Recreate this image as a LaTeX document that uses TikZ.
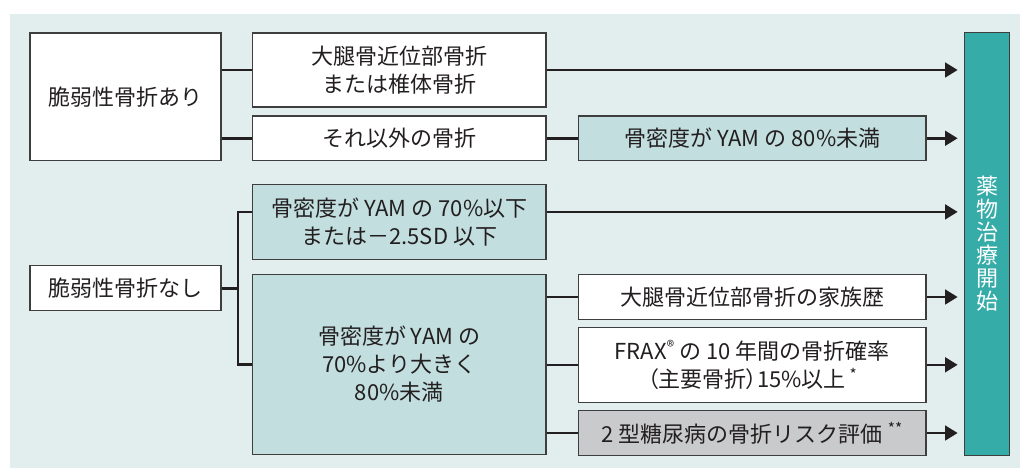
\documentclass[tikz,border=0pt]{standalone}
\usepackage{fontspec}
\setmainfont{Noto Sans CJK JP}
\usetikzlibrary{arrows.meta}
\definecolor{panel}{HTML}{E2EEEE}
\definecolor{lteal}{HTML}{C2DEDF}
\definecolor{teal2}{HTML}{36ACA9}
\definecolor{gbox}{HTML}{C9CACB}
\definecolor{boxline}{HTML}{3E3E3E}
\definecolor{ink}{HTML}{231F20}
\begin{document}
\begin{tikzpicture}[x=1pt,y=-1pt,
  box/.style={draw=boxline, line width=1.1pt, fill=white, text=ink, align=center, inner sep=0pt, font=\fontsize{22}{28}\selectfont},
  conn/.style={draw=ink, line width=2.6pt},
  arr/.style={conn, -{Triangle[length=12.6pt,width=14.7pt]}, shorten >=6.5pt}]
\useasboundingbox (0,0) rectangle (1020,468);
\fill[panel] (10,14) rectangle (1020,468);
\node[box, minimum width=191pt, minimum height=127.5pt] (A) at (125.5,96.75) {脆弱性骨折あり};
\node[box, minimum width=293.5pt, minimum height=74pt] (B) at (399.25,70) {大腿骨近位部骨折\\または椎体骨折};
\node[box, minimum width=293.5pt, minimum height=44.5pt] (C) at (399.25,138.25) {それ以外の骨折};
\node[box, fill=lteal, minimum width=347.5pt, minimum height=44.5pt] (D) at (752.25,138.25) {骨密度が YAM の 80\%未満};
\node[box, fill=lteal, minimum width=293.5pt, minimum height=74.8pt] (E) at (399.25,221.9) {骨密度が YAM の 70\%以下\\または－2.5SD 以下};
\node[box, minimum width=191pt, minimum height=45pt] (F) at (125.5,288.2) {脆弱性骨折なし};
\node[box, fill=lteal, minimum width=293.5pt, minimum height=180pt] (G) at (399.25,364.5) {骨密度が YAM の\\70\%より大きく\\80\%未満};
\node[box, minimum width=347.5pt, minimum height=45pt] (H) at (752.25,297) {大腿骨近位部骨折の家族歴};
\node[box, minimum width=347.5pt, minimum height=75pt] (I) at (752.25,364.8) {FRAX\textsuperscript{®} の 10 年間の骨折確率\\{\addfontfeature{RawFeature=+palt}（主要骨折）}15\%以上\,\textsuperscript{*}};
\node[box, fill=gbox, minimum width=347.5pt, minimum height=44.6pt] (J) at (752.25,433) {2 型糖尿病の骨折リスク評価 \textsuperscript{**}};
\node[box, fill=teal2, draw=boxline, text=white, minimum width=45pt, minimum height=422.8pt, font=\fontsize{22}{23}\selectfont] (R) at (987.2,243.9) {薬\\物\\治\\療\\開\\始};
\coordinate (br) at (238,288.2);
\coordinate (e0) at ([yshift=10pt]E.west);
\coordinate (e1) at ([yshift=10pt]E.east);
\draw[conn] (A.east |- B.west) -- (B.west);
\draw[conn] (A.east |- C.west) -- (C.west);
\draw[arr] (B.east) -- (B.east -| R.west);
\draw[conn] (C.east) -- (D.west);
\draw[arr] (D.east) -- (D.east -| R.west);
\draw[conn] (F.east) -- (br);
\draw[conn] (e0) -| (br) |- (G.west);
\draw[arr] (e1) -- (e1 -| R.west);
\draw[conn] (G.east |- H.west) -- (H.west);
\draw[conn] (G.east |- I.west) -- (I.west);
\draw[conn] (G.east |- J.west) -- (J.west);
\draw[arr] (H.east) -- (H.east -| R.west);
\draw[arr] (I.east) -- (I.east -| R.west);
\draw[arr] (J.east) -- (J.east -| R.west);
\end{tikzpicture}
\end{document}
